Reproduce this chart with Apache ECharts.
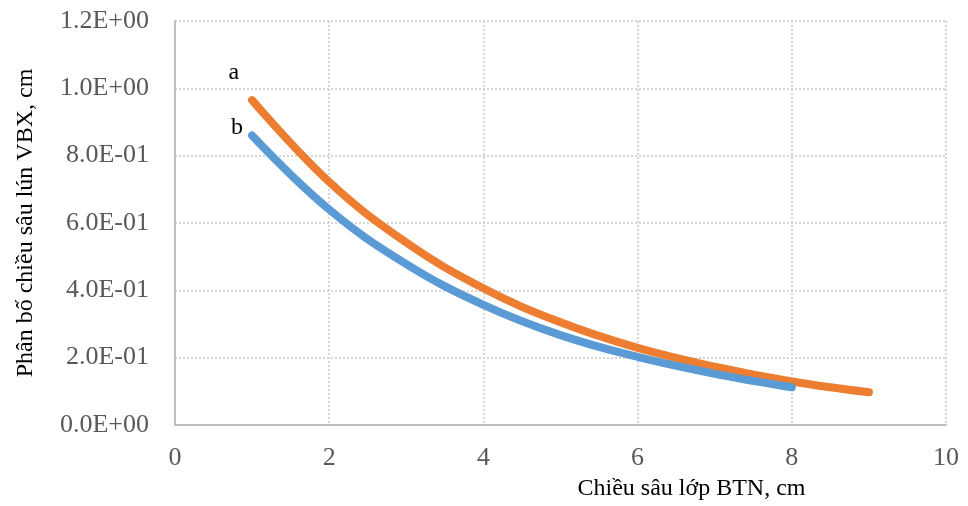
<!DOCTYPE html>
<html>
<head>
<meta charset="utf-8">
<script src="https://cdn.jsdelivr.net/npm/echarts@6/dist/echarts.min.js"></script>
<style>
html,body{margin:0;padding:0;background:#fff;}
#chart{width:968px;height:506px;}
</style>
</head>
<body>
<div id="chart"></div>
<script>
// Data
const seriesA_x = [1, 2, 3, 4, 5, 6, 7, 8, 9];
const seriesA_y = [0.965, 0.722, 0.542, 0.406, 0.305, 0.229, 0.173, 0.129, 0.097];
const seriesB_x = [1, 2, 3, 4, 5, 6, 7, 8];
const seriesB_y = [0.86, 0.64, 0.478, 0.357, 0.267, 0.202, 0.152, 0.112];
const seriesNames = ['a', 'b'];
const yTickValues = [0, 0.2, 0.4, 0.6, 0.8, 1.0, 1.2];
const yTickLabels = ['0.0E+00', '2.0E-01', '4.0E-01', '6.0E-01', '8.0E-01', '1.0E+00', '1.2E+00'];
const xTickValues = [0, 2, 4, 6, 8, 10];
const xTickLabels = ['0', '2', '4', '6', '8', '10'];
const xTitle = 'Chiều sâu lớp BTN, cm';
const yTitle = 'Phân bố chiều sâu lún VBX, cm';

function buildData(xs, ys, name, offset) {
  return xs.map((x, i) => {
    const item = { value: [x, ys[i]] };
    if (i === 0) {
      item.label = {
        show: true, formatter: name, position: 'left', offset: offset,
        fontFamily: 'Liberation Serif', fontSize: 24, color: '#000'
      };
    }
    return item;
  });
}
function lookup(values, labels, v) {
  for (let i = 0; i < values.length; i++) {
    if (Math.abs(values[i] - v) < 1e-9) return labels[i];
  }
  return '';
}

const chart = echarts.init(document.getElementById('chart'));
const gridLine = { show: true, lineStyle: { color: '#d6d6d6', type: 'dotted', width: 2 } };
chart.setOption({
  animation: false,
  backgroundColor: '#fff',
  grid: { left: 175, right: 22, top: 21, bottom: 81, containLabel: false, outerBoundsMode: 'none' },
  xAxis: {
    type: 'value', min: 0, max: 10, interval: 2,
    axisLine: { show: true, lineStyle: { color: '#bfbfbf', width: 2 } },
    axisTick: { show: false },
    splitLine: gridLine,
    axisLabel: {
      margin: 20, color: '#595959', fontFamily: 'Liberation Serif', fontSize: 26,
      formatter: v => lookup(xTickValues, xTickLabels, v)
    },
    name: xTitle, nameLocation: 'middle', nameGap: 52,
    nameTextStyle: { color: '#000', fontFamily: 'Liberation Serif', fontSize: 24, padding: [0, 0, 0, 262] }
  },
  yAxis: {
    type: 'value', min: 0, max: 1.2, interval: 0.2,
    axisLine: { show: true, lineStyle: { color: '#bfbfbf', width: 2 } },
    axisTick: { show: false },
    splitLine: gridLine,
    axisLabel: {
      margin: 26, color: '#595959', fontFamily: 'Liberation Serif', fontSize: 26,
      formatter: v => lookup(yTickValues, yTickLabels, v)
    },
    name: yTitle, nameLocation: 'middle', nameGap: 137,
    nameTextStyle: { color: '#000', fontFamily: 'Liberation Serif', fontSize: 24 }
  },
  series: [
    {
      name: seriesNames[0], type: 'line', smooth: 0.4,
      symbol: 'circle', symbolSize: 0, showSymbol: true,
      lineStyle: { color: '#ED7D31', width: 8, cap: 'round' },
      itemStyle: { color: '#ED7D31' },
      label: { show: false },
      data: buildData(seriesA_x, seriesA_y, seriesNames[0], [-8, -27])
    },
    {
      name: seriesNames[1], type: 'line', smooth: 0.4,
      symbol: 'circle', symbolSize: 0, showSymbol: true,
      lineStyle: { color: '#5B9BD5', width: 8, cap: 'round' },
      itemStyle: { color: '#5B9BD5' },
      label: { show: false },
      data: buildData(seriesB_x, seriesB_y, seriesNames[1], [-4, -8])
    }
  ]
});
</script>
</body>
</html>
